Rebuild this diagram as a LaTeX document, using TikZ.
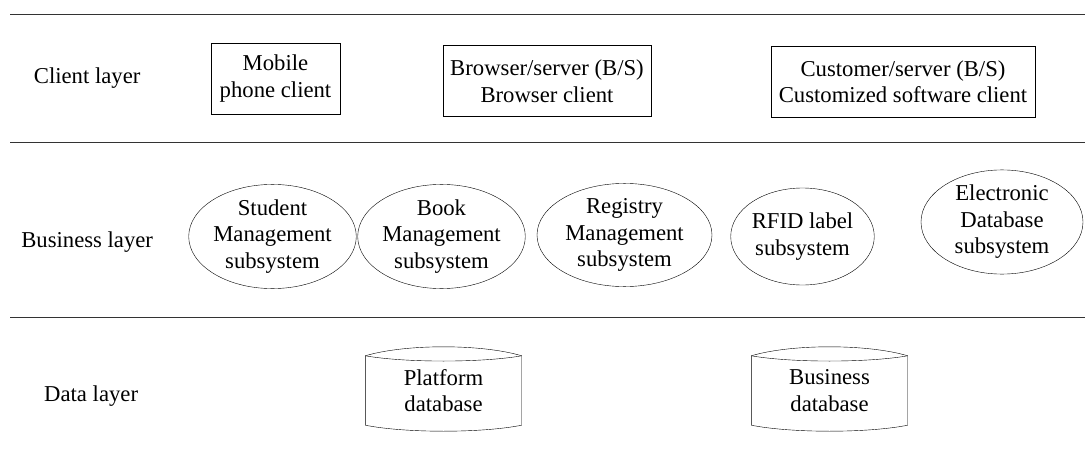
\documentclass[tikz,border=0pt]{standalone}
\usepackage{fontspec}
\setmainfont{Liberation Serif}
\usetikzlibrary{shapes.geometric}

\begin{document}
\begin{tikzpicture}
  [
    x                       = 1pt,
    y                       = -1pt,
    every node/.style       = {font=\rmfamily\fontsize{22.7}{26.5}\selectfont, align=center, inner sep=0pt},
    layer/.style            = {anchor=center},
    client/.style           = {draw, minimum height=71pt},
    subsys/.style           = {draw, ellipse, minimum height=97pt},
    dbnode/.style           = {minimum width=156pt, minimum height=69pt},
    sep/.style              = {draw=black!80, line width=0.9pt}
  ]
  \useasboundingbox (0,0) rectangle (1085,452);

  % layer separators
  \draw[sep] (10,14)  -- (1085,14);
  \draw[sep] (10,142) -- (1085,142);
  \draw[sep] (10,317) -- (1085,317);

  % layer names
  \node[layer] (lclient)   at (90,78)  { Client layer };
  \node[layer] (lbusiness) at (90,242) { Business layer };
  \node[layer] (ldata)     at (94,396) { Data layer };

  % client layer
  \node[client, minimum width=129pt] (mobile)   at (275.5,78.5) { Mobile\\phone client };
  \node[client, minimum width=208pt] (browser)  at (547,81)     { Browser/server (B/S)\\Browser client };
  \node[client, minimum width=264pt] (customer) at (903,81.5)   { Customer/server (B/S)\\Customized software client };

  % business layer
  \node[subsys, minimum width=141pt] (student)    at (272.5,236.5) { Student\\Management\\subsystem };
  \node[subsys, minimum width=153pt] (book)       at (441.5,236.5) { Book\\Management\\subsystem };
  \node[subsys, minimum width=175pt, minimum height=100pt] (registry) at (624.5,235) { Registry\\Management\\subsystem };
  \node[subsys, minimum width=143pt] (rfid)       at (802.5,236.5) { RFID label\\subsystem };
  \node[subsys, minimum width=162pt, minimum height=90pt] (electronic) at (1002,222) { Electronic\\Database\\subsystem };

  % data layer
  \node[dbnode] (platform) at (443.5,390.5) { Platform\\database };
  \node[dbnode] (business) at (829.5,390.5) { Business\\database };
  \foreach \db in {platform, business}
  {
    \draw (\db.north west) .. controls +(40,-12) and +(-40,-12) .. (\db.north east)
      -- (\db.south east) .. controls +(-40,8) and +(40,8) .. (\db.south west) -- cycle;
    \draw (\db.north west) .. controls +(40,7) and +(-40,7) .. (\db.north east);
  }
\end{tikzpicture}
\end{document}
